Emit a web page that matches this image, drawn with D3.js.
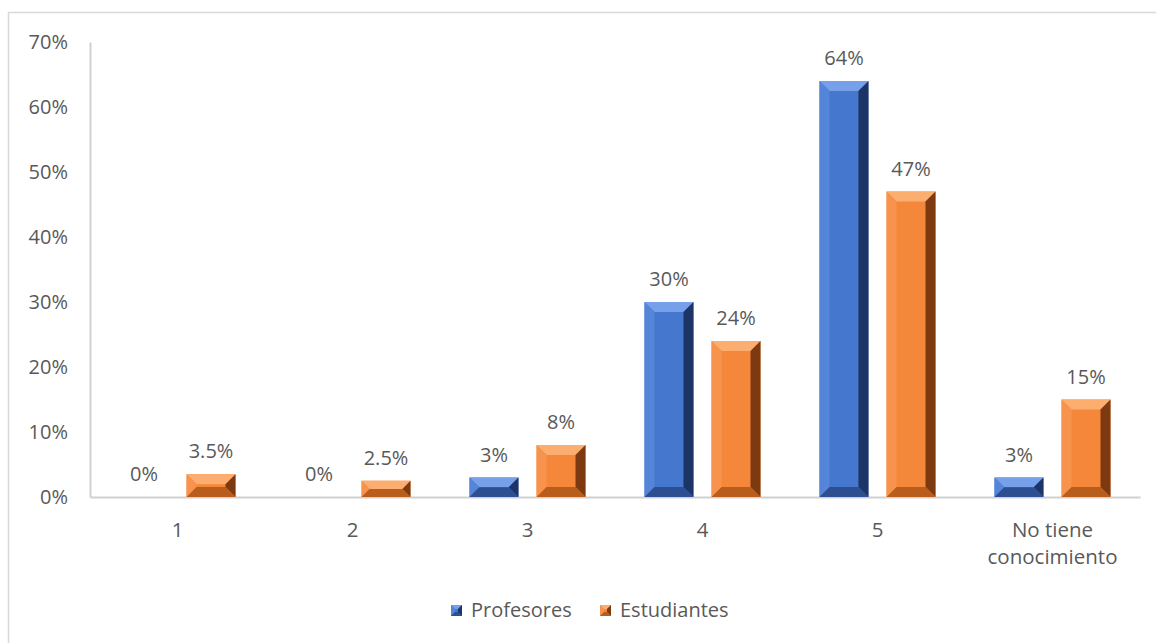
<!DOCTYPE html>
<head>
<meta charset="utf-8">
<style>
body { margin: 0; background: #fff; }
svg { display: block; }
text { font-family: "Open Sans", "Liberation Sans", sans-serif; fill: #595959; }
.tick text { font-size: 20px; }
.lbl { font-size: 20px; text-anchor: middle; }
.cat { font-size: 20.5px; text-anchor: middle; }
</style>
</head>
<body>
<svg width="1156" height="643"></svg>
<script src="https://d3js.org/d3.v7.min.js"></script>
<script>
var categories = ["1", "2", "3", "4", "5", "No tiene conocimiento"];
var catLines = [["1"], ["2"], ["3"], ["4"], ["5"], ["No tiene", "conocimiento"]];
var seriesNames = ["Profesores", "Estudiantes"];
var profesores = [0, 0, 3, 30, 64, 3];
var estudiantes = [3.5, 2.5, 8, 24, 47, 15];
var labelsProf = ["0%", "0%", "3%", "30%", "64%", "3%"];
var labelsEst = ["3.5%", "2.5%", "8%", "24%", "47%", "15%"];
var yTicks = [0, 10, 20, 30, 40, 50, 60, 70];

var colors = {
  Profesores: { face: "#4677cf", top: "#76a0ea", left: "#5485d9", right: "#1c3566", bottom: "#2d4f92" },
  Estudiantes: { face: "#f5873a", top: "#fcae70", left: "#f7934c", right: "#7d3a10", bottom: "#b95d1d" }
};

var svg = d3.select("svg");
// chart frame
svg.append("rect").attr("x", 8.5).attr("y", 12.5).attr("width", 1200).attr("height", 700)
  .attr("fill", "none").attr("stroke", "#d9d9d9").attr("stroke-width", 1.5);

var plotLeft = 90, plotRight = 1140, plotTop = 42, plotBottom = 497;

var x = d3.scaleBand().domain(categories).range([plotLeft, plotRight]);
var xs = d3.scaleBand().domain(seriesNames).range([0, x.bandwidth()]).paddingInner(0.27).paddingOuter(0.44);
var y = d3.scaleLinear().domain([0, 70]).range([plotBottom, plotTop]);

// y axis
var yAxis = svg.append("g").attr("transform", "translate(" + plotLeft + ",0)")
  .call(d3.axisLeft(y).tickValues(yTicks).tickFormat(function(d) { return d + "%"; }).tickSize(0).tickPadding(22));
yAxis.select(".domain").attr("stroke", "#d0d0d0").attr("stroke-width", 2);

// x axis
var xAxis = svg.append("g").attr("transform", "translate(0," + plotBottom + ")")
  .call(d3.axisBottom(x).tickSize(0).tickFormat(""));
xAxis.select(".domain").attr("stroke", "#d0d0d0").attr("stroke-width", 2);

categories.forEach(function(c, i) {
  var t = svg.append("text").attr("class", "cat");
  catLines[i].forEach(function(w, j) {
    t.append("tspan").attr("x", x(c) + x.bandwidth() / 2).attr("y", 537 + j * 27).text(w);
  });
});

function bevelBar(g, bx, by, w, h, c, size) {
  if (h <= 0) return;
  var b = Math.min(size, h / 2, w / 2);
  g.append("rect").attr("x", bx).attr("y", by).attr("width", w).attr("height", h).attr("fill", c.face);
  var poly = function(pts, fill) {
    g.append("polygon").attr("points", pts.map(function(p) { return p.join(","); }).join(" ")).attr("fill", fill);
  };
  var x0 = bx, x1 = bx + w, y0 = by, y1 = by + h;
  poly([[x0, y0], [x1, y0], [x1 - b, y0 + b], [x0 + b, y0 + b]], c.top);
  poly([[x0, y0], [x0 + b, y0 + b], [x0 + b, y1 - b], [x0, y1]], c.left);
  poly([[x1, y0], [x1, y1], [x1 - b, y1 - b], [x1 - b, y0 + b]], c.right);
  poly([[x0, y1], [x0 + b, y1 - b], [x1 - b, y1 - b], [x1, y1]], c.bottom);
}

var series = [
  { name: "Profesores", values: profesores, labels: labelsProf },
  { name: "Estudiantes", values: estudiantes, labels: labelsEst }
];

var bars = svg.append("g");
series.forEach(function(s) {
  s.values.forEach(function(v, i) {
    var bx = x(categories[i]) + xs(s.name);
    var w = xs.bandwidth();
    var g = bars.append("g");
    bevelBar(g, bx, y(v), w, y(0) - y(v), colors[s.name], 10);
    svg.append("text").attr("class", "lbl")
      .attr("x", bx + w / 2).attr("y", y(v) - 16)
      .text(s.labels[i]);
  });
});

// legend
var legend = svg.append("g").attr("transform", "translate(451,610)");
var lx = [0, 149];
seriesNames.forEach(function(n, i) {
  var g = legend.append("g").attr("transform", "translate(" + lx[i] + ",0)");
  bevelBar(g, 0, -5, 11, 11, colors[n], 4);
  g.append("text").attr("x", 20).attr("y", 0).attr("dy", "0.35em").style("font-size", "20px").text(n);
});
</script>
</body>
